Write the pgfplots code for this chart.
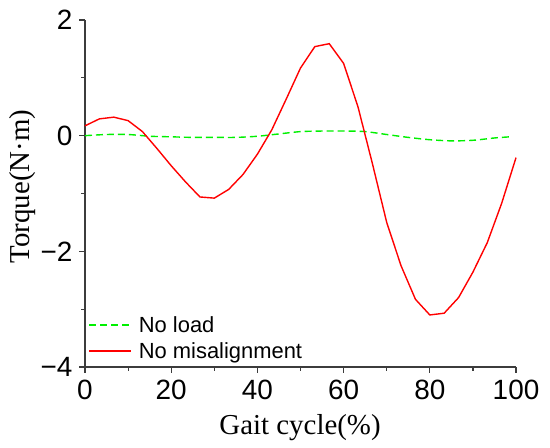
\documentclass[border=0pt]{standalone}
\usepackage{fontspec}
\setmainfont{Liberation Serif}
\setsansfont{Liberation Sans}
\usepackage{pgfplots}
\pgfplotsset{compat=1.18}
\definecolor{lgreen}{RGB}{0,240,0}
\definecolor{lred}{RGB}{255,0,0}
\definecolor{axgray}{RGB}{60,60,60}
\begin{document}
\begin{tikzpicture}[x=1bp,y=1bp]
\path[use as bounding box] (0,0) rectangle (550,448);
\begin{axis}[
  scale only axis, width=431bp, height=347bp,
  at={(85bp,81bp)}, anchor=south west,
  xmin=0, xmax=100, ymin=-4, ymax=2,
  axis x line*=bottom, axis y line*=left,
  xtick={0,20,40,60,80,100}, xticklabels={0,20,40,60,80,100},
  ytick={-4,-2,0,2}, yticklabels={−4,−2,0,2},
  minor x tick num=1, minor y tick num=1,
  tick align=outside, major tick length=6bp, minor tick length=4bp,
  every tick/.style={axgray, line width=1.2bp},
  axis line style={axgray, line width=1.3bp},
  ticklabel style={font=\fontsize{28}{28}\sffamily},
  xticklabel style={yshift=-4bp},
  yticklabel style={xshift=-3bp},
  xlabel={Gait cycle(\%)}, ylabel={Torque(N·m)},
  label style={font=\fontsize{29}{29}\selectfont},
  xlabel style={at={(axis description cs:0.499,-0.175)}, anchor=center},
  ylabel style={at={(axis description cs:-0.144,0.52)}, anchor=center},
  legend style={draw=none, fill=none, at={(axis description cs:0,0)}, anchor=south west,
    yshift=3bp, font=\fontsize{22}{22}\sffamily, legend cell align=left,
    row sep=4.5bp, /tikz/column 1/.style={column sep=5bp}},
  legend image code/.code={\draw[#1, line width=1.7bp] (0bp,0bp) -- (42bp,0bp);},
  clip=false,
]
\addplot[color=lgreen, line width=1.4bp, dash pattern=on 7bp off 4bp, smooth] coordinates {
(0,0.00) (5,0.02) (10,0.02) (15,-0.01) (20,-0.02) (25,-0.03) (30,-0.03) (35,-0.03)
(40,-0.01) (45,0.03) (50,0.07) (55,0.08) (60,0.08) (65,0.07) (70,0.02) (75,-0.03)
(80,-0.07) (85,-0.09) (90,-0.08) (95,-0.04) (98.6,-0.02)};
\addlegendentry{No load}
\addplot[color=lred, line width=1.4bp] coordinates {
(0,0.17) (3.33,0.29) (6.67,0.32) (10,0.26) (13.33,0.07) (16.67,-0.22) (20,-0.52)
(23.33,-0.80) (26.67,-1.06) (30,-1.08) (33.33,-0.93) (36.67,-0.67) (40,-0.32)
(43.33,0.10) (46.67,0.63) (50,1.17) (53.33,1.54) (56.67,1.59) (60,1.25) (63.33,0.50)
(66.67,-0.48) (70,-1.50) (73.33,-2.25) (76.67,-2.83) (80,-3.10) (83.33,-3.07)
(86.67,-2.80) (90,-2.36) (93.33,-1.85) (96.67,-1.17) (100,-0.38)};
\addlegendentry{No misalignment}
\end{axis}
\end{tikzpicture}
\end{document}
